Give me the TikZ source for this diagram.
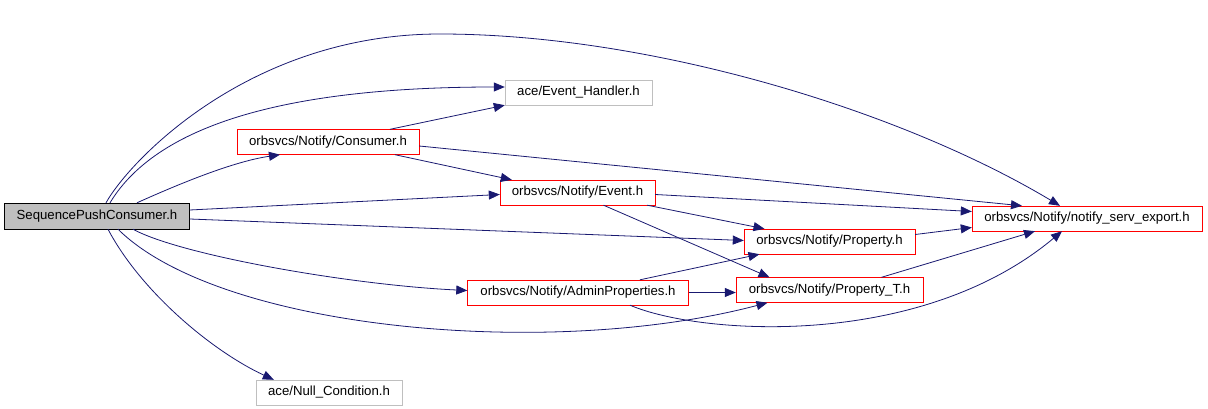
\documentclass[tikz,border=0pt]{standalone}
\usepackage{fontspec}
\setmainfont{Liberation Sans}
\usepackage{tikz}
\usetikzlibrary{calc,arrows.meta}
\definecolor{edgeblue}{HTML}{191970}
\definecolor{boxgray}{HTML}{BFBFBF}

\begin{document}
\begin{tikzpicture}[x=1pt,y=-1pt,
	every node/.style={draw=red,fill=white,minimum height=25pt,inner sep=0pt,font=\fontsize{13.2}{15}\selectfont},
	inc/.style={draw=edgeblue,line width=0.8pt,-{Triangle[length=11pt,width=9pt]}},
	ext/.style={draw=boxgray}]

\useasboundingbox (0,0) rectangle (1208,409);

\node (nSeq) [draw=black,fill=boxgray,minimum width=185pt,minimum height=26pt] at (97,216) {SequencePushConsumer.h};
\node (nEvH) [ext,minimum width=147pt] at (578.5,92.5) {ace/Event\_Handler.h};
\node (nCons) [minimum width=182pt] at (328,142) {orbsvcs/Notify/Consumer.h};
\node (nEvt) [minimum width=155pt] at (577.5,192.5) {orbsvcs/Notify/Event.h};
\node (nExp) [minimum width=230pt] at (1087,218.5) {orbsvcs/Notify/notify\_serv\_export.h};
\node (nProp) [minimum width=171pt] at (829.5,241.5) {orbsvcs/Notify/Property.h};
\node (nAdm) [minimum width=221pt] at (578,292.5) {orbsvcs/Notify/AdminProperties.h};
\node (nPropT) [minimum width=187pt] at (829.5,290) {orbsvcs/Notify/Property\_T.h};
\node (nNull) [ext,minimum width=146pt] at (329,392.5) {ace/Null\_Condition.h};

% SequencePushConsumer.h
\draw[inc] ($(nSeq.north)+(9,0)$) .. controls (130,160) and (250,34) .. (440,34)
	.. controls (650,34) and (900,110) .. ($(nExp.north)+(-27,0)$);
\draw[inc] ($(nSeq.north)+(13,0)$) .. controls (160,120) and (300,87) .. ($(nEvH.west)+(0,-5.5)$);
\draw[inc] ($(nSeq.north)+(40,0)$) .. controls (170,188) and (230,162) .. ($(nCons.south)+(-48,0)$);
\draw[inc] ($(nSeq.east)+(0,-6)$) -- ($(nEvt.west)+(0,2)$);
\draw[inc] ($(nSeq.east)+(0,3)$) -- ($(nProp.west)+(0,-1)$);
\draw[inc] ($(nSeq.south)+(36,0)$) .. controls (180,255) and (350,285) .. ($(nAdm.west)+(0,-2)$);
\draw[inc] ($(nSeq.south)+(21,0)$) .. controls (220,330) and (550,360) .. ($(nPropT.south)+(-62,0)$);
\draw[inc] ($(nSeq.south)+(11,0)$) .. controls (140,290) and (210,350) .. ($(nNull.north west)+(18,0)$);

% orbsvcs/Notify/...
\draw[inc] ($(nCons.north)+(62,0)$) -- (nEvH.south west);
\draw[inc] ($(nCons.east)+(0,4)$) -- ($(nExp.north)+(-65,0)$);
\draw[inc] ($(nCons.south)+(67,0)$) -- ($(nEvt.north west)+(12,0)$);
\draw[inc] ($(nEvt.east)+(0,2)$) -- ($(nExp.west)+(0,-7)$);
\draw[inc] ($(nEvt.south east)+(-8,0)$) -- ($(nProp.north)+(-65,0)$);
\draw[inc] ($(nEvt.south)+(26,0)$) -- ($(nPropT.north)+(-60,0)$);
\draw[inc] ($(nProp.east)+(0,-7)$) -- ($(nExp.west)+(0,9)$);
\draw[inc] ($(nAdm.north)+(62,0)$) -- ($(nProp.south)+(-70,0)$);
\draw[inc] (nAdm.east) -- ($(nPropT.west)+(0,2.5)$);
\draw[inc] ($(nAdm.south)+(52,0)$) .. controls (700,335) and (920,350) .. ($(nExp.south)+(-25,0)$);
\draw[inc] ($(nPropT.north)+(52,0)$) -- ($(nExp.south)+(-52,0)$);

\end{tikzpicture}
\end{document}
